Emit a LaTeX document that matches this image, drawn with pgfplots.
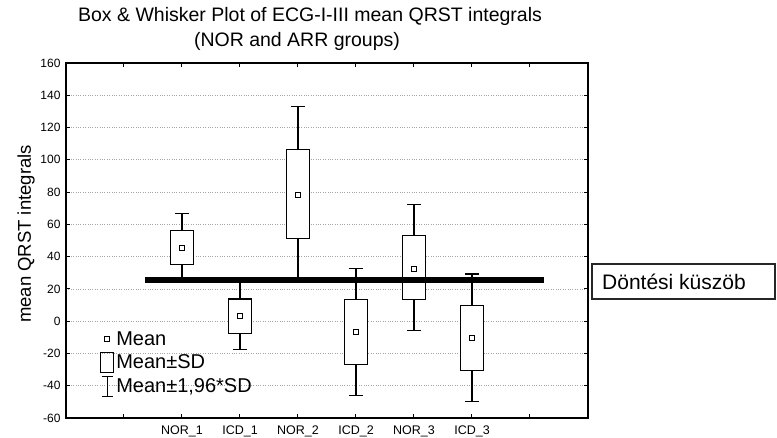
\documentclass[border=0pt]{standalone}
\usepackage{fontspec}
\setmainfont{Liberation Sans}
\usepackage{pgfplots}
\pgfplotsset{compat=1.18}
\begin{document}
\begin{tikzpicture}[x=1pt,y=1pt]
\path[use as bounding box] (0,0) rectangle (777,438);
\begin{axis}[
 at={(66pt,20pt)}, anchor=south west,
 scale only axis, width=522pt, height=355pt,
 xmin=-2, xmax=7, ymin=-60, ymax=160,
 xtick={-1,0,1,2,3,4,5,6},
 xticklabels={,NOR\_1,ICD\_1,NOR\_2,ICD\_2,NOR\_3,ICD\_3,},
 ytick={-60,-40,...,160},
 ymajorgrids, grid style={dotted, gray!70, line width=0.8pt},
 axis line style={line width=1.3pt},
 major tick length=4pt,
 tick style={black, line width=1pt},
 tick align=inside,
 /pgf/number format/assume math mode=true,
 yticklabel style={font=\fontsize{12}{14}\selectfont, xshift=-2pt},
 xticklabel style={font=\fontsize{12.5}{14}\selectfont, yshift=-4pt},
 legend style={at={(0.063,0.056)}, anchor=south west, draw=none, fill=none, font=\fontsize{20}{22}\selectfont, inner sep=1pt, row sep=3pt, cells={anchor=west, fill=white}},
 legend cell align=left,
]
\addlegendimage{only marks, mark=square, mark size=2.5pt, line width=1pt, black}
\addlegendentry{Mean}
\addlegendimage{legend image code/.code={\draw[black, line width=1.2pt] (2pt,-10pt) rectangle (15pt,10pt);}}
\addlegendentry{Mean±SD}
\addlegendimage{legend image code/.code={\draw[black, line width=1.2pt] (8.5pt,-10pt)--(8.5pt,10pt) (3pt,10pt)--(14pt,10pt) (3pt,-10pt)--(14pt,-10pt);}}
\addlegendentry{Mean±1,96*SD}

% whiskers: mean +- 1.96*SD
\addplot[forget plot, draw=none, mark=none, black,
  error bars/.cd, y dir=both, y explicit,
  error bar style={line width=1.2pt, black},
  error mark options={rotate=90, mark size=7pt, line width=1.2pt, black}]
 coordinates {
 (0,45.6) +- (0,21.0)
 (1,3.2) +- (0,20.8)
 (2,78.8) +- (0,54.1)
 (3,-6.8) +- (0,39.2)
 (4,33.2) +- (0,39.0)
 (5,-10.4) +- (0,39.6)
 };

% boxes: mean +- SD
\addplot[forget plot, black, line width=1.2pt, fill=white] coordinates {(-0.205,34.9) (0.205,34.9) (0.205,56.3) (-0.205,56.3)} -- cycle;
\addplot[forget plot, black, line width=1.2pt, fill=white] coordinates {(0.795,-7.4) (1.205,-7.4) (1.205,13.8) (0.795,13.8)} -- cycle;
\addplot[forget plot, black, line width=1.2pt, fill=white] coordinates {(1.795,51.2) (2.205,51.2) (2.205,106.4) (1.795,106.4)} -- cycle;
\addplot[forget plot, black, line width=1.2pt, fill=white] coordinates {(2.795,-26.8) (3.205,-26.8) (3.205,13.2) (2.795,13.2)} -- cycle;
\addplot[forget plot, black, line width=1.2pt, fill=white] coordinates {(3.795,13.3) (4.205,13.3) (4.205,53.1) (3.795,53.1)} -- cycle;
\addplot[forget plot, black, line width=1.2pt, fill=white] coordinates {(4.795,-30.6) (5.205,-30.6) (5.205,9.8) (4.795,9.8)} -- cycle;

% means
\addplot[forget plot, only marks, mark=square, mark size=2.5pt, line width=1pt, black] coordinates {(0,45.6) (1,3.2) (2,78.5) (3,-6.9) (4,32.6) (5,-10.3)};

% decision threshold
\addplot[forget plot, black, line width=6pt] coordinates {(-0.64,25.7) (6.24,25.7)};
\end{axis}
\node[anchor=base, font=\fontsize{19.5}{23}\selectfont] at (310,416.3) {Box \& Whisker Plot of ECG-I-III mean QRST integrals};
\node[anchor=base, font=\fontsize{19.5}{23}\selectfont] at (297,391.3) {(NOR and ARR groups)};
\node[rotate=90, font=\fontsize{18.5}{22}\selectfont] at (26,204) {mean QRST integrals};
\draw[line width=1.2pt, black!85] (592,139) rectangle (775,174);
\node[anchor=base west, inner sep=0pt, font=\fontsize{21}{25}\selectfont] at (602,148) {Döntési küszöb};
\end{tikzpicture}
\end{document}
